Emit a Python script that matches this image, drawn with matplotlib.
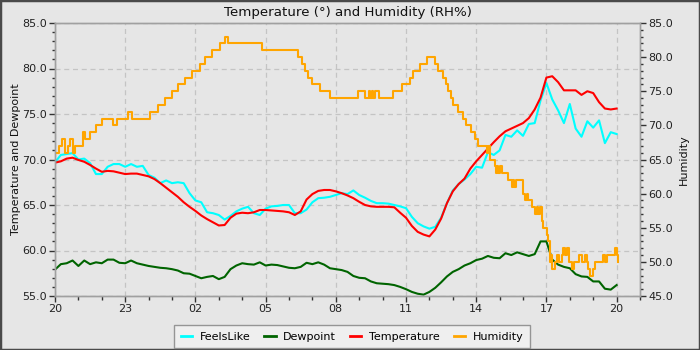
import matplotlib
matplotlib.use("Agg")
import matplotlib.pyplot as plt
from matplotlib.patches import Rectangle
from matplotlib.ticker import MultipleLocator, FormatStrFormatter

# Readings every 15 minutes, hours since 20:00
sample_hours = [i * 0.25 for i in range(97)]

temperature = [
    69.65, 69.8, 70.1, 70.2, 69.95, 69.75, 69.4, 69.0, 68.65, 68.75,
    68.7, 68.55, 68.4, 68.45, 68.45, 68.3, 68.15, 67.85, 67.4, 66.9,
    66.4, 65.9, 65.3, 64.8, 64.35, 63.85, 63.45, 63.1, 62.75, 62.8,
    63.6, 64.05, 64.15, 64.1, 64.2, 64.45, 64.45, 64.4, 64.35, 64.3,
    64.2, 63.9, 64.3, 65.6, 66.2, 66.55, 66.65, 66.65, 66.5, 66.3,
    66.05, 65.75, 65.35, 65.0, 64.85, 64.8, 64.8, 64.8, 64.75, 64.15,
    63.6, 62.7, 62.05, 61.75, 61.55, 62.3, 63.5, 65.2, 66.5, 67.3,
    67.9, 69.0, 69.8, 70.5, 71.2, 71.9, 72.55, 73.1, 73.4, 73.7,
    74.0, 74.55, 75.5, 76.8, 79.0, 79.15, 78.5, 77.6, 77.6, 77.6,
    77.1, 77.5, 77.3, 76.3, 75.6, 75.5, 75.6,
]

feels_like = [
    69.7, 70.5, 70.6, 70.7, 70.0, 70.1, 69.6, 68.4, 68.4, 69.2,
    69.5, 69.5, 69.2, 69.5, 69.2, 69.3, 68.3, 68.0, 67.4, 67.7,
    67.4, 67.5, 67.4, 66.3, 65.5, 65.3, 64.2, 64.1, 63.9, 63.4,
    63.8, 64.3, 64.6, 64.8, 64.1, 63.9, 64.6, 64.85, 64.9, 65.0,
    65.0, 64.1, 64.1, 64.5, 65.3, 65.75, 65.8, 65.9, 66.1, 66.3,
    66.2, 66.6, 66.1, 65.8, 65.45, 65.2, 65.2, 65.15, 65.0, 64.85,
    64.65, 63.7, 63.0, 62.65, 62.4, 62.6, 63.6, 65.2, 66.6, 67.3,
    67.8, 68.4, 69.2, 69.1, 70.8, 70.5, 71.0, 72.7, 72.5, 73.2,
    72.6, 73.9, 74.0, 76.5, 78.4, 76.6, 75.4, 74.0, 76.1, 73.4,
    72.5, 74.2, 73.5, 74.3, 71.8, 73.0, 72.8,
]

dewpoint = [
    57.9, 58.5, 58.6, 58.9, 58.3, 58.9, 58.5, 58.7, 58.6, 59.0,
    59.0, 58.65, 58.6, 58.9, 58.6, 58.45, 58.3, 58.2, 58.1, 58.05,
    57.95, 57.8, 57.5, 57.45, 57.2, 56.95, 57.1, 57.2, 56.85, 57.1,
    57.95, 58.35, 58.6, 58.5, 58.45, 58.7, 58.35, 58.45, 58.4, 58.25,
    58.1, 58.05, 58.2, 58.65, 58.5, 58.7, 58.45, 58.05, 57.95, 57.85,
    57.65, 57.2, 57.0, 56.95, 56.6, 56.4, 56.35, 56.3, 56.2, 56.0,
    55.75, 55.45, 55.25, 55.15, 55.45, 55.9, 56.5, 57.15, 57.65, 57.95,
    58.35, 58.6, 58.95, 59.1, 59.4, 59.2, 59.15, 59.7, 59.5, 59.8,
    59.6, 59.4, 59.6, 61.0, 61.0, 59.0, 58.45, 58.2, 58.05, 57.4,
    57.15, 57.1, 56.6, 56.6, 55.8, 55.7, 56.2,
]

# Humidity is reported in whole percent; each entry starts a new level
humidity_hours = [
    0.0, 0.18, 0.29, 0.43, 0.57, 0.64, 0.76, 0.85, 1.18, 1.28,
    1.50, 1.75, 2.0, 2.49, 2.64, 3.13, 3.28, 4.06, 4.42, 4.70,
    4.99, 5.27, 5.56, 5.84, 6.12, 6.18, 6.27, 6.41, 6.70, 7.05,
    7.26, 7.41, 8.83, 10.40, 10.54, 10.68, 10.83, 10.97, 11.32, 11.75,
    12.96, 13.25, 13.41, 13.46, 13.55, 13.60, 13.66, 13.86, 14.46, 14.85,
    15.17, 15.31, 15.60, 15.88, 16.24, 16.38, 16.57, 16.71, 16.81, 16.91,
    17.02, 17.24, 17.45, 17.56, 17.78, 17.95, 18.06, 18.45, 18.52, 18.59,
    18.80, 18.85, 18.90, 18.95, 19.00, 19.09, 19.37, 19.52, 19.57, 19.62,
    19.70, 20.01, 20.09, 20.16, 20.23, 20.37, 20.51, 20.58, 20.65, 20.72,
    20.80, 20.87, 21.01, 21.08, 21.15, 21.20, 21.25, 21.37, 21.45, 21.55,
    21.65, 21.72, 21.79, 21.87, 21.95, 22.08, 22.20, 22.40, 22.51, 22.65,
    22.72, 22.79, 22.86, 23.00, 23.08, 23.40, 23.50, 23.60, 23.93, 24.00,
    24.07,
]
humidity = [
    66, 67, 68, 66, 67, 68, 66, 67, 69, 68,
    69, 70, 71, 70, 71, 72, 71, 72, 73, 74,
    75, 76, 77, 78, 78, 79, 79, 80, 81, 82,
    83, 82, 81, 80, 79, 78, 77, 76, 75, 74,
    75, 74, 75, 74, 75, 74, 75, 74, 75, 76,
    77, 78, 79, 80, 79, 78, 77, 76, 75, 74,
    73, 72, 71, 70, 69, 68, 67, 66, 67, 65,
    64, 63, 64, 63, 64, 63, 62, 61, 62, 61,
    62, 60, 59, 60, 59, 58, 57, 58, 57, 58,
    56, 55, 54, 53, 50, 51, 49, 50, 51, 50,
    51, 52, 51, 52, 50, 49, 50, 51, 50, 51,
    50, 49, 48, 49, 50, 51, 50, 51, 52, 51,
    50,
]

tick_hours = [0, 3, 6, 9, 12, 15, 18, 21, 24]
tick_labels = ["20", "23", "02", "05", "08", "11", "14", "17", "20"]

bg = "#e6e6e6"
grid_color = "#c4c4c4"
spine_color = "#a0a0a0"

plt.rcParams["font.family"] = ["DejaVu Sans"]

fig = plt.figure(figsize=(7, 3.5), dpi=100, facecolor=bg)
ax = fig.add_axes([55 / 700, 1 - 296 / 350, 585 / 700, 273 / 350])
ax.set_facecolor(bg)
ax2 = ax.twinx()

lw = 1.5
l_feels, = ax.plot(sample_hours, feels_like, color="#00ffff", lw=lw, label="FeelsLike")
l_dew, = ax.plot(sample_hours, dewpoint, color="#006400", lw=lw, label="Dewpoint")
l_temp, = ax.plot(sample_hours, temperature, color="#ff0000", lw=lw, label="Temperature")
# humidity is on the secondary axis, drawn over the other series
l_hum, = ax2.plot(humidity_hours, humidity, color="#ffa500", lw=lw,
                  drawstyle="steps-post", label="Humidity")

ax.set_xlim(0, 25)
ax.set_ylim(55, 85)
ax2.set_ylim(45, 85)

ax.set_xticks(tick_hours)
ax.set_xticklabels(tick_labels)
ax.xaxis.set_minor_locator(MultipleLocator(1))
ax.yaxis.set_major_locator(MultipleLocator(5))
ax.yaxis.set_minor_locator(MultipleLocator(1))
ax.yaxis.set_major_formatter(FormatStrFormatter("%.1f"))
ax2.yaxis.set_major_locator(MultipleLocator(5))
ax2.yaxis.set_minor_locator(MultipleLocator(1))
ax2.yaxis.set_major_formatter(FormatStrFormatter("%.1f"))

for a in (ax, ax2):
    a.tick_params(which="major", length=4, width=1, color="#333333",
                  labelsize=8, labelcolor="#222222", pad=2)
    a.tick_params(which="minor", length=2.5, width=1, color="#333333")
    for s in a.spines.values():
        s.set_color(spine_color)
        s.set_linewidth(1)
ax.tick_params(axis="x", which="minor", length=3)

ax.grid(True, which="major", axis="both", color=grid_color,
        linestyle=(0, (4, 3)), linewidth=0.9)
ax.set_axisbelow(True)

ax.set_title("Temperature (°) and Humidity (RH%)", fontsize=9.6, color="#111111", pad=5)
ax.set_ylabel("Temperature and Dewpoint", fontsize=8, color="#111111", labelpad=1)
ax2.set_ylabel("Humidity", fontsize=8, color="#111111", labelpad=4)

leg = fig.legend(handles=[l_feels, l_dew, l_temp, l_hum], loc="lower center",
                 bbox_to_anchor=(0.503, 0.0), ncol=4, fontsize=8,
                 frameon=True, fancybox=False, handlelength=1.0,
                 handletextpad=0.7, columnspacing=1.25, borderpad=0.6,
                 borderaxespad=0.15)
leg.get_frame().set_facecolor("#f2f2f2")
leg.get_frame().set_edgecolor("#808080")
leg.get_frame().set_linewidth(1)
for h in leg.get_lines():
    h.set_linewidth(2)

fig.patches.append(Rectangle((0, 0), 1, 1, transform=fig.transFigure,
                             fill=False, edgecolor="#4a4a4a", linewidth=2.5))

fig.savefig("out.png", dpi=100, facecolor=bg)
